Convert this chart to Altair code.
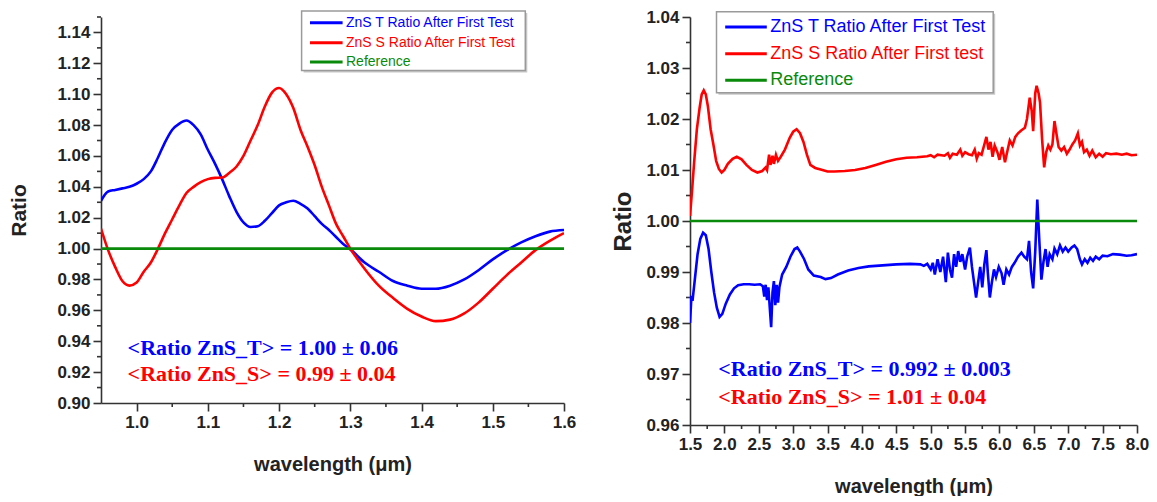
import altair as alt
import pandas as pd

# ---------------- data ----------------
LEFT_WL = [0.95, 0.96, 0.97, 0.98, 0.99, 1.00, 1.01, 1.02, 1.03, 1.04, 1.05, 1.06, 1.07, 1.08, 1.09,
           1.10, 1.11, 1.12, 1.13, 1.14, 1.15, 1.16, 1.17, 1.18, 1.19, 1.20, 1.21, 1.22, 1.23, 1.24,
           1.25, 1.26, 1.27, 1.28, 1.29, 1.30, 1.32, 1.34, 1.36, 1.38, 1.40, 1.42, 1.44, 1.46, 1.48,
           1.50, 1.52, 1.54, 1.56, 1.58, 1.60]
LEFT_T = [1.031, 1.037, 1.038, 1.039, 1.040, 1.042, 1.045, 1.050, 1.059, 1.069, 1.077, 1.081, 1.083, 1.080, 1.074,
          1.064, 1.055, 1.045, 1.034, 1.024, 1.017, 1.014, 1.0145, 1.018, 1.023, 1.028, 1.030, 1.031, 1.029, 1.026,
          1.021, 1.016, 1.012, 1.0075, 1.003, 0.9995, 0.991, 0.985, 0.979, 0.976, 0.974, 0.974, 0.976, 0.980, 0.986,
          0.993, 0.999, 1.004, 1.008, 1.011, 1.012]
LEFT_S = [1.013, 0.999, 0.988, 0.979, 0.976, 0.978, 0.985, 0.991, 1.000, 1.010, 1.019, 1.028, 1.036, 1.040, 1.043,
          1.045, 1.0458, 1.046, 1.049, 1.053, 1.060, 1.070, 1.080, 1.092, 1.101, 1.104, 1.100, 1.091, 1.077, 1.066,
          1.054, 1.040, 1.028, 1.016, 1.008, 1.000, 0.987, 0.976, 0.968, 0.961, 0.956, 0.953, 0.954, 0.958, 0.965,
          0.974, 0.983, 0.991, 0.999, 1.005, 1.010]

RIGHT_S_WL = [1.50, 1.53, 1.56, 1.60, 1.64, 1.67, 1.70, 1.73, 1.76, 1.80, 1.84, 1.88, 1.92, 1.96, 2.00, 2.05,
              2.12, 2.18, 2.25, 2.32, 2.40, 2.48, 2.55, 2.60, 2.62, 2.65, 2.67, 2.70, 2.72, 2.75, 2.78, 2.82,
              2.88, 2.95, 3.00, 3.05, 3.10, 3.15, 3.20, 3.25, 3.32, 3.40, 3.50, 3.60, 3.75, 3.90, 4.05, 4.20,
              4.35, 4.50, 4.65, 4.80, 4.95, 5.00, 5.05, 5.10, 5.20, 5.25, 5.28, 5.32, 5.38, 5.43, 5.46, 5.50,
              5.55, 5.60, 5.64, 5.67, 5.70, 5.74, 5.78, 5.81, 5.84, 5.87, 5.90, 5.93, 5.97, 6.00, 6.04, 6.08,
              6.12, 6.15, 6.19, 6.23, 6.27, 6.32, 6.37, 6.40, 6.44, 6.47, 6.49, 6.52, 6.54, 6.57, 6.59, 6.62,
              6.65, 6.68, 6.71, 6.74, 6.77, 6.80, 6.83, 6.86, 6.90, 6.94, 6.98, 7.02, 7.06, 7.10, 7.14, 7.17,
              7.20, 7.23, 7.27, 7.31, 7.35, 7.40, 7.45, 7.50, 7.55, 7.62, 7.70, 7.78, 7.85, 7.92, 8.00]
RIGHT_S = [1.0010, 1.0060, 1.0115, 1.0180, 1.0222, 1.0248, 1.0256, 1.0248, 1.0225, 1.0180, 1.0150, 1.0118,
           1.0102, 1.0095, 1.0100, 1.0112, 1.0122, 1.0126, 1.0121, 1.0110, 1.0100, 1.0095, 1.0098, 1.0105,
           1.0100, 1.0130, 1.0110, 1.0128, 1.0112, 1.0130, 1.0118, 1.0126, 1.0140, 1.0163, 1.0175, 1.0180,
           1.0172, 1.0155, 1.0130, 1.0110, 1.0104, 1.0101, 1.0097, 1.0097, 1.0098, 1.0100, 1.0104, 1.0110,
           1.0116, 1.0121, 1.0124, 1.0125, 1.0127, 1.0129, 1.0125, 1.0130, 1.0128, 1.0133, 1.0124, 1.0132,
           1.0130, 1.0140, 1.0128, 1.0135, 1.0131, 1.0129, 1.0140, 1.0122, 1.0133, 1.0130, 1.0150, 1.0165,
           1.0140, 1.0155, 1.0126, 1.0148, 1.0135, 1.0120, 1.0145, 1.0115, 1.0140, 1.0158, 1.0148, 1.0165,
           1.0172, 1.0178, 1.0183, 1.0200, 1.0242, 1.0215, 1.0176, 1.0250, 1.0265, 1.0250, 1.0232, 1.0160,
           1.0105, 1.0135, 1.0148, 1.0140, 1.0150, 1.0196, 1.0170, 1.0145, 1.0138, 1.0145, 1.0132, 1.0140,
           1.0150, 1.0158, 1.0172, 1.0148, 1.0155, 1.0135, 1.0140, 1.0128, 1.0138, 1.0125, 1.0132, 1.0126,
           1.0133, 1.0131, 1.0132, 1.0130, 1.0132, 1.0129, 1.0130]

RIGHT_T_WL = [1.50, 1.51, 1.52, 1.54, 1.57, 1.61, 1.65, 1.69, 1.73, 1.77, 1.81, 1.85, 1.89, 1.93, 1.97, 2.02,
              2.08, 2.14, 2.20, 2.28, 2.36, 2.44, 2.52, 2.56, 2.58, 2.60, 2.62, 2.64, 2.66, 2.68, 2.70, 2.72,
              2.74, 2.76, 2.78, 2.80, 2.84, 2.90, 2.96, 3.02, 3.06, 3.10, 3.16, 3.22, 3.30, 3.40, 3.47, 3.55,
              3.65, 3.80, 3.95, 4.10, 4.30, 4.50, 4.70, 4.85, 4.90, 4.95, 5.00, 5.03, 5.06, 5.10, 5.14, 5.18,
              5.22, 5.25, 5.28, 5.31, 5.34, 5.37, 5.40, 5.43, 5.46, 5.50, 5.53, 5.57, 5.60, 5.64, 5.66, 5.69,
              5.72, 5.75, 5.78, 5.81, 5.83, 5.86, 5.89, 5.92, 5.95, 5.99, 6.03, 6.06, 6.10, 6.14, 6.18, 6.22,
              6.27, 6.32, 6.36, 6.40, 6.43, 6.46, 6.49, 6.52, 6.55, 6.58, 6.61, 6.64, 6.67, 6.70, 6.73, 6.77,
              6.80, 6.84, 6.88, 6.92, 6.96, 7.00, 7.05, 7.09, 7.13, 7.17, 7.20, 7.24, 7.28, 7.32, 7.36, 7.40,
              7.45, 7.50, 7.57, 7.65, 7.75, 7.85, 7.92, 8.00]
RIGHT_T = [0.9800, 0.9825, 0.9850, 0.9848, 0.9885, 0.9935, 0.9965, 0.9977, 0.9972, 0.9945, 0.9900, 0.9860,
           0.9830, 0.9812, 0.9818, 0.9838, 0.9856, 0.9868, 0.9874, 0.9876, 0.9876, 0.9875, 0.9876, 0.9872,
           0.9852, 0.9875, 0.9845, 0.9870, 0.9830, 0.9792, 0.9860, 0.9882, 0.9835, 0.9875, 0.9840, 0.9870,
           0.9895, 0.9910, 0.9930, 0.9945, 0.9948, 0.9940, 0.9925, 0.9905, 0.9893, 0.9890, 0.9886, 0.9888,
           0.9895, 0.9903, 0.9908, 0.9911, 0.9913, 0.9915, 0.9916, 0.9915, 0.9912, 0.9916, 0.9905, 0.9918,
           0.9895, 0.9925, 0.9900, 0.9930, 0.9880, 0.9938, 0.9905, 0.9889, 0.9935, 0.9910, 0.9941, 0.9920,
           0.9935, 0.9905, 0.9930, 0.9948, 0.9910, 0.9870, 0.9850, 0.9880, 0.9910, 0.9870, 0.9915, 0.9943,
           0.9900, 0.9850, 0.9880, 0.9905, 0.9890, 0.9910, 0.9898, 0.9875, 0.9905, 0.9895, 0.9910, 0.9918,
           0.9930, 0.9938, 0.9930, 0.9925, 0.9961, 0.9900, 0.9868, 0.9940, 1.0042, 0.9960, 0.9885, 0.9920,
           0.9945, 0.9910, 0.9935, 0.9925, 0.9946, 0.9935, 0.9952, 0.9940, 0.9948, 0.9940, 0.9948, 0.9952,
           0.9945, 0.9925, 0.9915, 0.9925, 0.9918, 0.9928, 0.9922, 0.9930, 0.9925, 0.9932, 0.9931, 0.9935,
           0.9934, 0.9932, 0.9933, 0.9935]

REFERENCE = [1.0]

LEFT_X_TICKS = [1.0, 1.1, 1.2, 1.3, 1.4, 1.5, 1.6]
LEFT_X_MINOR = [1.05, 1.15, 1.25, 1.35, 1.45, 1.55]
LEFT_Y_TICKS = [0.90, 0.92, 0.94, 0.96, 0.98, 1.00, 1.02, 1.04, 1.06, 1.08, 1.10, 1.12, 1.14]
LEFT_Y_MINOR = [0.91, 0.93, 0.95, 0.97, 0.99, 1.01, 1.03, 1.05, 1.07, 1.09, 1.11, 1.13, 1.15]
RIGHT_X_TICKS = [1.5, 2.0, 2.5, 3.0, 3.5, 4.0, 4.5, 5.0, 5.5, 6.0, 6.5, 7.0, 7.5, 8.0]
RIGHT_X_MINOR = [1.75, 2.25, 2.75, 3.25, 3.75, 4.25, 4.75, 5.25, 5.75, 6.25, 6.75, 7.25, 7.75]
RIGHT_Y_TICKS = [0.96, 0.97, 0.98, 0.99, 1.00, 1.01, 1.02, 1.03, 1.04]
RIGHT_Y_MINOR = [0.965, 0.975, 0.985, 0.995, 1.005, 1.015, 1.025, 1.035]

LEFT_LEGEND = ["ZnS T Ratio After First Test", "ZnS S Ratio After First Test", "Reference"]
RIGHT_LEGEND = ["ZnS T Ratio After First Test", "ZnS S Ratio After First test", "Reference"]
LEFT_NOTES = ["<Ratio ZnS_T> = 1.00 \u00b1 0.06", "<Ratio ZnS_S> = 0.99 \u00b1 0.04"]
RIGHT_NOTES = ["<Ratio ZnS_T> = 0.992 \u00b1 0.003", "<Ratio ZnS_S> = 1.01 \u00b1 0.04"]

BLUE = "#0000ff"
RED = "#ff0000"
GREEN = "#0a8a0a"
SERIES_COLORS = [BLUE, RED, GREEN]
AXIS_COLOR = "#333333"
TEXT_COLOR = "#222222"
SANS = "Liberation Sans"
SERIF = "Liberation Serif"

one = pd.DataFrame({"k": [0]})


def panel(wlT, T, wlS, S, xdom, ydom, xticks, xminor, yticks, yminor, w, h,
          yfmt, ytitle_size, ytitle_pad, legend, leg, notes, note_pos, interp):
    xs = alt.Scale(domain=xdom, nice=False, zero=False)
    ys = alt.Scale(domain=ydom, nice=False, zero=False)
    common = dict(grid=False, domainColor=AXIS_COLOR, domainWidth=1.6, tickColor=AXIS_COLOR,
                  tickWidth=1.6, tickSize=8, labelPadding=3, labelFont=SANS, labelFontWeight="bold",
                  labelColor=TEXT_COLOR, labelFontSize=17, labelOverlap=False, labelFlush=False,
                  titleFont=SANS, titleFontWeight="bold", titleColor=TEXT_COLOR)
    xa = alt.Axis(values=xticks, format=".1f", title="wavelength (\u03bcm)",
                  titlePadding=24, titleFontSize=20, **common)
    ya = alt.Axis(values=yticks, format=yfmt, title="Ratio",
                  titlePadding=ytitle_pad, titleFontSize=ytitle_size, **common)
    X = lambda: alt.X("wl:Q", scale=xs, axis=xa)
    Y = lambda: alt.Y("ratio:Q", scale=ys, axis=ya)

    dT = pd.DataFrame({"wl": wlT, "ratio": T})
    dS = pd.DataFrame({"wl": wlS, "ratio": S})
    dR = pd.DataFrame({"ratio": REFERENCE})

    lT = alt.Chart(dT).mark_line(color=BLUE, strokeWidth=2.6, clip=True, interpolate=interp).encode(x=X(), y=Y())
    lS = alt.Chart(dS).mark_line(color=RED, strokeWidth=2.6, clip=True, interpolate=interp).encode(x=X(), y=Y())
    lR = alt.Chart(dR).mark_rule(color=GREEN, strokeWidth=2.6).encode(y=Y())

    ymin = alt.Chart(pd.DataFrame({"ratio": yminor})).mark_rule(color=AXIS_COLOR, strokeWidth=1.6).encode(
        y=Y(), x=alt.value(-4), x2=alt.value(0))
    xmin = alt.Chart(pd.DataFrame({"wl": xminor})).mark_rule(color=AXIS_COLOR, strokeWidth=1.6).encode(
        x=X(), y=alt.value(h), y2=alt.value(h + 4))

    # legend box
    bx0, bx1, by0, by1, lx0, lx1, tx, rows, fs = leg
    shadow = alt.Chart(one).mark_rect(fill="#c8c8c8").encode(
        x=alt.value(bx0 + 2), x2=alt.value(bx1 + 2), y=alt.value(by0 + 2), y2=alt.value(by1 + 2))
    box = alt.Chart(one).mark_rect(fill="white", stroke="#9a9a9a", strokeWidth=1.5).encode(
        x=alt.value(bx0), x2=alt.value(bx1), y=alt.value(by0), y2=alt.value(by1))
    layers = [lT, lS, lR, ymin, xmin, shadow, box]
    for label, col, ry in zip(legend, SERIES_COLORS, rows):
        layers.append(alt.Chart(one).mark_rule(color=col, strokeWidth=3).encode(
            x=alt.value(lx0), x2=alt.value(lx1), y=alt.value(ry)))
        layers.append(alt.Chart(one).mark_text(text=label, color=col, font=SANS, fontSize=fs,
                                               align="left", baseline="middle").encode(
            x=alt.value(tx), y=alt.value(ry)))
    nx, nys = note_pos
    for label, col, ny in zip(notes, [BLUE, RED], nys):
        layers.append(alt.Chart(one).mark_text(text=label, color=col, font=SERIF, fontSize=22,
                                               fontWeight="bold", align="left", baseline="middle").encode(
            x=alt.value(nx), y=alt.value(ny)))
    return alt.layer(*layers).properties(width=w, height=h)


left = panel(LEFT_WL, LEFT_T, LEFT_WL, LEFT_S, [0.95, 1.6], [0.90, 1.15],
             LEFT_X_TICKS, LEFT_X_MINOR, LEFT_Y_TICKS, LEFT_Y_MINOR, 463, 386,
             ".2f", 21, 27, LEFT_LEGEND,
             (200.6, 424.3, -6, 53.4, 209, 241.6, 245, [5.7, 25.7, 45], 14),
             LEFT_NOTES, (26.6, [330.7, 356.7]), "monotone")

right = panel(RIGHT_T_WL, RIGHT_T, RIGHT_S_WL, RIGHT_S, [1.5, 8.0], [0.96, 1.04],
              RIGHT_X_TICKS, RIGHT_X_MINOR, RIGHT_Y_TICKS, RIGHT_Y_MINOR, 447, 408,
              ".2f", 24, 10, RIGHT_LEGEND,
              (26.5, 303.2, -5.3, 75.7, 35.2, 76.8, 80.2, [10, 36.7, 63.3], 18),
              RIGHT_NOTES, (28.3, [352, 380]), "linear")

chart = alt.hconcat(left, right, spacing=126, bounds="flush").properties(
    padding={"left": 0, "top": 0, "right": 0, "bottom": 0},
    background="white",
).configure_view(stroke=None)

chart.save("out.html", embed_options={"renderer": "svg", "actions": False})
